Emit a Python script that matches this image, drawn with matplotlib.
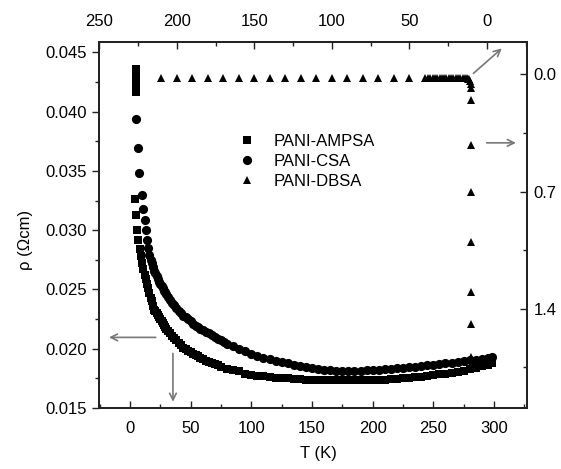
import matplotlib
matplotlib.use('Agg')
import matplotlib.pyplot as plt
from matplotlib.ticker import MultipleLocator, FixedLocator

plt.rcParams['font.family'] = ['Liberation Sans', 'DejaVu Sans']
plt.rcParams['font.size'] = 12

# PANI-AMPSA (squares): bottom T axis, left rho axis
ampsa_T = [4.7, 4.7, 4.7, 4.7, 4.7,
           4, 5, 6, 7, 8, 9, 10, 11, 12, 13, 14, 15, 16, 17, 18, 19, 20,
           21, 22, 23, 24, 25, 26, 27, 28, 29, 30, 31.5, 33, 34.5, 36, 38,
           40, 42, 44, 46, 48, 50, 52, 54, 56, 58, 60, 62.5, 65, 67.5, 70,
           72.5, 75,
           80, 85, 90, 95, 100, 105, 110, 115, 120, 125, 130, 135, 140, 145,
           150, 155, 160, 165, 170, 175, 180, 185, 190, 195, 200, 205, 210,
           215, 220, 225, 230, 235, 240, 245, 250, 255, 260, 265, 270, 275,
           280, 285, 290, 295, 298]
ampsa_rho = [0.0436, 0.0431, 0.0426, 0.0421, 0.0417,
             0.0326, 0.0313, 0.0300, 0.0292, 0.0284, 0.0278, 0.0272, 0.0267,
             0.0262, 0.0259, 0.0255, 0.0251, 0.0247, 0.0243, 0.0240, 0.0236,
             0.0233, 0.02315, 0.0230, 0.02285, 0.0227, 0.0225, 0.0223,
             0.02215, 0.0220, 0.02185, 0.0217, 0.0215, 0.0213, 0.0211,
             0.0209, 0.0207, 0.0205, 0.0203, 0.0201, 0.01995, 0.0198, 0.0197,
             0.0196, 0.0195, 0.0194, 0.01925, 0.0191, 0.0190, 0.0189, 0.0188,
             0.0187, 0.0186, 0.0185,
             0.0183, 0.0182, 0.0181, 0.0179, 0.0178, 0.0177, 0.01767,
             0.01762, 0.01757, 0.01753, 0.0175, 0.01746, 0.01742, 0.0174,
             0.01738, 0.01736, 0.01735, 0.01734, 0.01734, 0.01734, 0.01734,
             0.01734, 0.01734, 0.01735, 0.01736, 0.01738, 0.0174, 0.01744,
             0.01748, 0.01752, 0.01756, 0.0176, 0.01765, 0.01771, 0.01777,
             0.01783, 0.0179, 0.01797, 0.01806, 0.01816, 0.01827, 0.01839,
             0.01852, 0.01866, 0.01876]

# PANI-CSA (circles): bottom T axis, left rho axis
csa_T = [4.7, 6.4, 7.6, 9.6,
         11, 12, 13, 14, 15, 16, 17, 18, 19, 20, 21, 22, 23, 24, 25, 26, 27,
         28, 29, 30, 31.5, 33, 34.5, 36, 38, 40, 42, 44, 46, 48, 50, 52, 54,
         56, 58, 60, 62.5, 65, 67.5, 70, 72.5, 75, 77.5, 80, 85, 90, 95, 100,
         105, 110,
         115, 120, 125, 130, 135, 140, 145, 150, 155, 160, 165, 170, 175,
         180, 185, 190, 195, 200, 205, 210, 215, 220, 225, 230, 235, 240,
         245, 250, 255, 260, 265, 270, 275, 280, 285, 290, 295, 298]
csa_rho = [0.0394, 0.0369, 0.0348, 0.0330,
           0.0318, 0.0309, 0.0300, 0.0292, 0.0285, 0.0279, 0.0275, 0.0272,
           0.0269, 0.0266, 0.02635, 0.0261, 0.02585, 0.0256, 0.02545,
           0.0253, 0.0251, 0.0249, 0.02475, 0.0246, 0.02435, 0.0241,
           0.0239, 0.0237, 0.02345, 0.0232, 0.0230, 0.0228, 0.02265, 0.0225,
           0.0223, 0.0221, 0.02195, 0.0218, 0.0217, 0.0216, 0.02145, 0.0213,
           0.02115, 0.0210, 0.02085, 0.0207, 0.02055, 0.0204, 0.0202, 0.0200,
           0.0198, 0.0196, 0.0194, 0.0192,
           0.0191, 0.0190, 0.0189, 0.0188, 0.01865, 0.01855, 0.01845,
           0.01835, 0.01827, 0.0182, 0.01818, 0.01816, 0.01815, 0.01815,
           0.01815, 0.01816, 0.01818, 0.0182, 0.01823, 0.01827, 0.01831,
           0.01835, 0.0184, 0.01844, 0.01849, 0.01854, 0.01859, 0.01864,
           0.0187, 0.01876, 0.01882, 0.01888, 0.01895, 0.01902, 0.01909,
           0.01917, 0.01926, 0.01932]

# PANI-DBSA (triangles): top T axis, right axis
dbsa_T = [210, 200, 190, 180, 170, 160, 150, 140, 130, 120, 110, 100, 90,
          80, 70, 60, 50, 40,
          38, 36.5, 35, 33.5, 32, 30.5, 29, 27.5, 26, 24.5, 23, 21.5, 20,
          18.5, 17, 15.5, 14, 13, 12, 11.5, 11, 10.5, 10,
          10, 10, 10, 10, 10, 10, 10]
dbsa_val = [0.02, 0.02, 0.02, 0.02, 0.02, 0.02, 0.02, 0.02, 0.02, 0.02,
            0.02, 0.02, 0.02, 0.02, 0.02, 0.02, 0.02, 0.02,
            0.02, 0.02, 0.02, 0.02, 0.02, 0.02, 0.02, 0.02, 0.02, 0.02,
            0.02, 0.02, 0.02, 0.02, 0.02, 0.02, 0.02, 0.022, 0.025, 0.03,
            0.04, 0.06, 0.08,
            0.153, 0.42, 0.70, 1.00, 1.30, 1.49, 1.69]

bottom_ticks = [0, 50, 100, 150, 200, 250, 300]
left_ticks = [0.015, 0.020, 0.025, 0.030, 0.035, 0.040, 0.045]
top_ticks = [250, 200, 150, 100, 50, 0]
right_ticks = [0.0, 0.7, 1.4]

spine_col = '#222222'
arrow_col = '#777777'

fig = plt.figure(figsize=(5.61, 4.69), dpi=100)
ax = fig.add_axes([0.177, 0.130, 0.762, 0.781])
ax2 = ax.twinx()
ax3 = ax2.twiny()

h1, = ax.plot(ampsa_T, ampsa_rho, 's', color='black', markersize=6,
              markeredgewidth=0, label='PANI-AMPSA')
h2, = ax.plot(csa_T, csa_rho, 'o', color='black', markersize=6.6,
              markeredgewidth=0, label='PANI-CSA')
h3, = ax3.plot(dbsa_T, dbsa_val, '^', color='black', markersize=5.6,
               markeredgewidth=0, label='PANI-DBSA')

ax.set_xlim(-25.3, 327)
ax.set_ylim(0.015, 0.0459)
ax2.set_ylim(1.993, -0.195)
ax3.set_xlim(250, -25.8)

ax.xaxis.set_major_locator(FixedLocator(bottom_ticks))
ax.xaxis.set_minor_locator(MultipleLocator(25))
ax.set_xticklabels([str(t) for t in bottom_ticks])
ax.yaxis.set_major_locator(FixedLocator(left_ticks))
ax.yaxis.set_minor_locator(MultipleLocator(0.0025))
ax.set_yticklabels(['%.3f' % v for v in left_ticks])
ax3.xaxis.set_major_locator(FixedLocator(top_ticks))
ax3.xaxis.set_minor_locator(MultipleLocator(25))
ax3.set_xticklabels([str(t) for t in top_ticks])
ax2.yaxis.set_major_locator(FixedLocator(right_ticks))
ax2.yaxis.set_minor_locator(MultipleLocator(0.35))
ax2.set_yticklabels(['%.1f' % v for v in right_ticks])

ax.tick_params(axis='y', which='both', direction='out', pad=4, colors=spine_col)
ax.tick_params(axis='x', which='both', direction='in', pad=9, colors=spine_col)
ax.tick_params(which='major', length=5, width=1)
ax.tick_params(which='minor', length=3, width=1)
ax2.tick_params(axis='y', which='both', direction='in', pad=5, colors=spine_col)
ax2.tick_params(which='major', length=5, width=1)
ax2.tick_params(which='minor', length=3, width=1)
ax3.tick_params(axis='x', which='both', direction='in', pad=9, colors=spine_col)
ax3.tick_params(which='major', length=5, width=1)
ax3.tick_params(which='minor', length=3, width=1)
for a in (ax, ax2, ax3):
    for s in a.spines.values():
        s.set_color(spine_col)
        s.set_linewidth(1.2)
    for lab in a.get_xticklabels() + a.get_yticklabels():
        lab.set_color('black')

ax.set_xlabel('T (K)', fontsize=12)
ax.set_ylabel('ρ (Ωcm)', fontsize=12)
ax.xaxis.set_label_coords(0.512, -0.105)
ax.yaxis.set_label_coords(-0.155, 0.459)

ax3.legend(handles=[h1, h2, h3], loc='upper left',
           bbox_to_anchor=(0.425, 0.714), bbox_transform=fig.transFigure,
           frameon=False, borderpad=0, borderaxespad=0, handlelength=1.0,
           handletextpad=1.1, labelspacing=0.3, fontsize=12)

arw = dict(arrowstyle='->', color=arrow_col, lw=1.2,
           shrinkA=0, shrinkB=0)
ax.annotate('', xy=(-17.3, 0.02096), xytext=(21.2, 0.02096), arrowprops=arw)
ax.annotate('', xy=(35.4, 0.01553), xytext=(35.4, 0.0196), arrowprops=arw)
ax2.annotate('', xy=(318, 0.409), xytext=(294, 0.409), arrowprops=arw)
ax2.annotate('', xy=(306.4, -0.155), xytext=(283, -0.006), arrowprops=arw)

fig.savefig('out.png', dpi=100)
